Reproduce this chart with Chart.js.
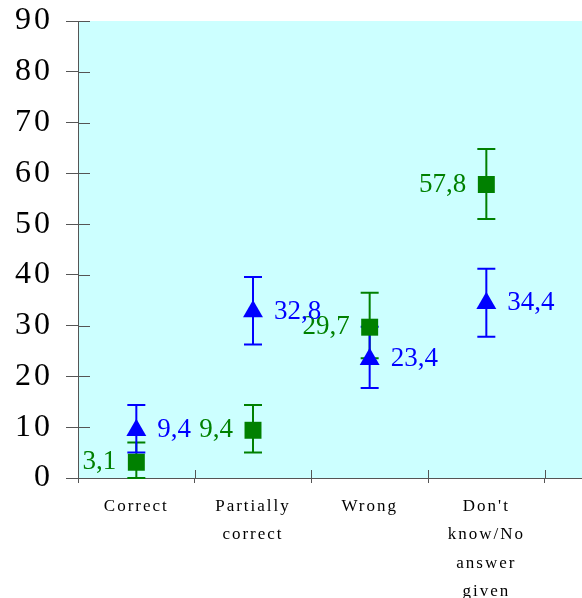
<!DOCTYPE html>
<html>
<head>
<meta charset="utf-8">
<script src="https://cdn.jsdelivr.net/npm/chart.js@4"></script>
<style>
  body { margin: 0; background: #fff; }
  #wrap { width: 582px; height: 598px; }
</style>
</head>
<body>
<div id="wrap"><canvas id="myChart" width="582" height="598"></canvas></div>
<script>
// categories and their label lines
const categories = ['Correct', 'Partially correct', 'Wrong', "Don't know/No answer given"];
const categoryLines = [['Correct'], ['Partially', 'correct'], ['Wrong'], ["Don't", 'know/No', 'answer', 'given']];

// green squares
const greenValues = [3.1, 9.4, 29.7, 57.8];
const greenLow = [0, 5.0, 23.6, 51.0];
const greenHigh = [7.0, 14.4, 36.5, 64.8];

// blue triangles
const blueValues = [9.4, 32.8, 23.4, 34.4];
const blueLow = [5.0, 26.3, 17.7, 27.8];
const blueHigh = [14.4, 39.6, 29.8, 41.2];

const yTicks = [0, 10, 20, 30, 40, 50, 60, 70, 80, 90];

const GREEN = '#008000';
const BLUE = '#0000ff';
const AXIS = '#555555';
const SERIF = "'Liberation Serif', 'DejaVu Serif', serif";

function fmt(v) {
  return v.toFixed(1).replace('.', ',');
}

// drop the extra room chart.js keeps for edge labels
function noEdgePadding(scale) {
  scale.paddingTop = 0;
  scale.paddingBottom = 0;
  scale.paddingLeft = 0;
  scale.paddingRight = 0;
}

const bgPlugin = {
  id: 'bg',
  beforeDraw(chart) {
    const a = chart.chartArea;
    const ctx = chart.ctx;
    ctx.save();
    ctx.fillStyle = '#ccffff';
    ctx.fillRect(a.left, a.top, a.right - a.left, a.bottom - a.top);
    ctx.restore();
    // x labels are drawn before datasets with this spacing
    ctx.letterSpacing = '2px';
  }
};

const errorBars = {
  id: 'errorBars',
  beforeDatasetsDraw(chart) {
    const ctx = chart.ctx;
    const y = chart.scales.y;
    const sets = [[greenLow, greenHigh, GREEN], [blueLow, blueHigh, BLUE]];
    ctx.save();
    ctx.lineWidth = 2;
    sets.forEach(([lo, hi, col], d) => {
      const meta = chart.getDatasetMeta(d);
      ctx.strokeStyle = col;
      meta.data.forEach((pt, i) => {
        const y1 = y.getPixelForValue(lo[i]);
        const y2 = y.getPixelForValue(hi[i]);
        ctx.beginPath();
        ctx.moveTo(pt.x, y1); ctx.lineTo(pt.x, y2);
        ctx.moveTo(pt.x - 9, y1); ctx.lineTo(pt.x + 9, y1);
        ctx.moveTo(pt.x - 9, y2); ctx.lineTo(pt.x + 9, y2);
        ctx.stroke();
      });
    });
    ctx.restore();
  },
  afterDatasetsDraw(chart) {
    const ctx = chart.ctx;
    ctx.save();
    ctx.letterSpacing = '0px';
    ctx.font = '27px ' + SERIF;
    ctx.textBaseline = 'middle';
    const g = chart.getDatasetMeta(0);
    ctx.fillStyle = GREEN;
    ctx.textAlign = 'right';
    g.data.forEach((pt, i) => ctx.fillText(fmt(greenValues[i]), pt.x - 20, pt.y));
    const b = chart.getDatasetMeta(1);
    ctx.fillStyle = BLUE;
    ctx.textAlign = 'left';
    b.data.forEach((pt, i) => ctx.fillText(fmt(blueValues[i]), pt.x + 21, pt.y));
    ctx.restore();
    // y tick labels come after datasets (z: 1)
    ctx.letterSpacing = '3px';
  },
  afterDraw(chart) {
    const ctx = chart.ctx;
    ctx.letterSpacing = '0px';
    const a = chart.chartArea;
    const x = chart.scales.x, y = chart.scales.y;
    ctx.save();
    ctx.strokeStyle = AXIS;
    ctx.lineWidth = 1;
    ctx.beginPath();
    yTicks.forEach(v => {
      const py = Math.round(y.getPixelForValue(v)) + 0.5;
      ctx.moveTo(a.left, py); ctx.lineTo(a.left + 12, py);
    });
    for (let i = 0; i <= categories.length; i++) {
      const px = Math.round(x.getPixelForValue(i)) + 0.5;
      ctx.moveTo(px, a.bottom - 8); ctx.lineTo(px, a.bottom);
    }
    ctx.stroke();
    ctx.restore();
  }
};

const ctx = document.getElementById('myChart').getContext('2d');
const myChart = new Chart(ctx, {
  type: 'scatter',
  data: {
    datasets: [{
      data: categories.map((c, i) => ({ x: i + 0.5, y: greenValues[i] })),
      pointStyle: 'rect',
      pointRadius: 12,
      backgroundColor: GREEN,
      borderColor: GREEN,
      borderWidth: 0
    }, {
      data: categories.map((c, i) => ({ x: i + 0.5, y: blueValues[i] })),
      pointStyle: 'triangle',
      pointRadius: 11.5,
      backgroundColor: BLUE,
      borderColor: BLUE,
      borderWidth: 0
    }]
  },
  options: {
    responsive: false,
    animation: false,
    events: [],
    layout: { autoPadding: false, padding: { top: 21, left: 0, right: 0, bottom: 0 } },
    plugins: { legend: { display: false }, tooltip: { enabled: false } },
    scales: {
      x: {
        type: 'linear',
        min: 0,
        max: 4.32,
        afterBuildTicks: (scale) => {
          const t = [];
          for (let i = 0; i <= categories.length * 2; i++) t.push({ value: i / 2 });
          scale.ticks = t;
        },
        afterFit: (scale) => { scale.height = 120; noEdgePadding(scale); },
        border: { display: true, color: AXIS, width: 1 },
        grid: {
          drawOnChartArea: false,
          tickLength: 5,
          color: (c) => (c.tick && Number.isInteger(c.tick.value)) ? AXIS : 'rgba(0,0,0,0)'
        },
        ticks: {
          autoSkip: false,
          maxRotation: 0,
          padding: 9,
          color: '#000',
          font: { family: SERIF, size: 17, lineHeight: 1.68 },
          callback: (v) => Number.isInteger(v) ? '' : categoryLines[Math.floor(v)]
        }
      },
      y: {
        min: 0,
        max: 90,
        afterBuildTicks: (scale) => { scale.ticks = yTicks.map(v => ({ value: v })); },
        afterFit: (scale) => { scale.width = 78; noEdgePadding(scale); },
        border: { display: true, color: AXIS, width: 1 },
        grid: { drawOnChartArea: false, tickLength: 12, color: AXIS },
        ticks: {
          z: 1,
          padding: 13,
          color: '#000',
          font: { family: SERIF, size: 32 }
        }
      }
    }
  },
  plugins: [bgPlugin, errorBars]
});
</script>
</body>
</html>
